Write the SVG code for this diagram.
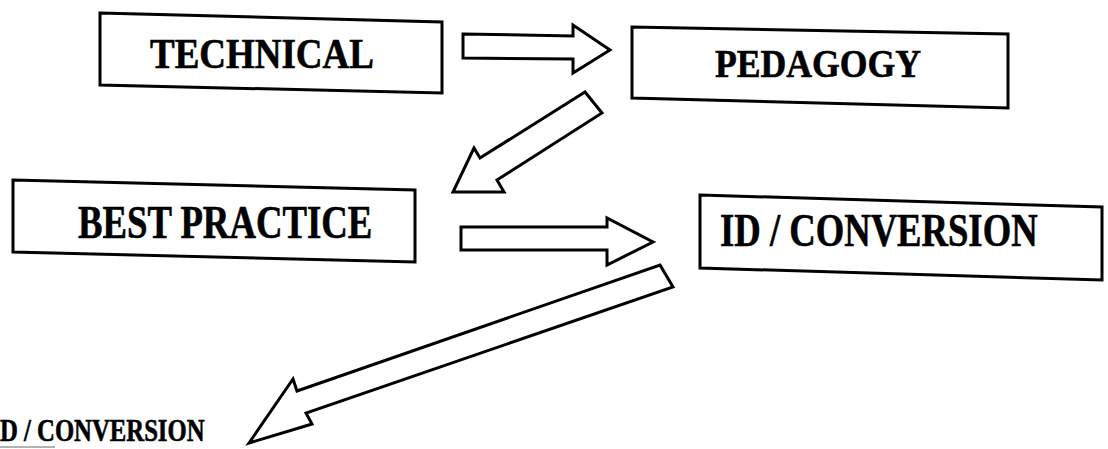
<svg xmlns="http://www.w3.org/2000/svg" width="1108" height="449" viewBox="0 0 1108 449">
<style>
.box{fill:#fff;stroke:#000;stroke-width:3;stroke-linejoin:miter}
.arr{fill:#fff;stroke:#000;stroke-width:3;stroke-linejoin:miter}
.lbl{font-family:"Liberation Serif","Times New Roman",serif;font-weight:bold;fill:#000;stroke:#000;stroke-width:0.6}
</style>
<rect width="1108" height="449" fill="#fff"/>
<g id="connectors">
<polygon class="arr" points="463,34 573,36 573,25 610,50 573,73 573,59 463,58"/>
<polygon class="arr" points="585,92 602,113 497,180 504,192 453,192 474,148 480,158"/>
<polygon class="arr" points="461,227 607,227 607,218 653,242 607,265 607,250 461,250"/>
<polygon class="arr" points="660,265 673,287 306,413 312,424 249,443 293,379 297,391"/>
</g>
<g id="technical">
<polygon class="box" points="100,13 442,22 442,93 100,85"/>
<text class="lbl" transform="translate(150,68) scale(0.88,1)" font-size="42">TECHNICAL</text>
</g>
<g id="pedagogy">
<polygon class="box" points="632,27 1008,34 1008,108 632,98"/>
<text class="lbl" transform="translate(715,77) scale(0.87,1)" font-size="41">PEDAGOGY</text>
</g>
<g id="best-practice">
<polygon class="box" points="13,180 415,190 415,262 13,252"/>
<text class="lbl" transform="translate(78,238) scale(0.79,1)" font-size="46.5">BEST PRACTICE</text>
</g>
<g id="id-conversion">
<polygon class="box" points="700,195 1102,207 1102,280 700,268"/>
<text class="lbl" transform="translate(720,246) scale(0.78,1)" font-size="47">ID / CONVERSION</text>
</g>
<g id="id-conversion-2">
<text class="lbl" transform="translate(0,441) scale(0.78,1)" font-size="31.7">D / CONVERSION</text>
<line x1="0" y1="447" x2="55" y2="447" stroke="#999" stroke-width="1.5"/>
</g>
</svg>
